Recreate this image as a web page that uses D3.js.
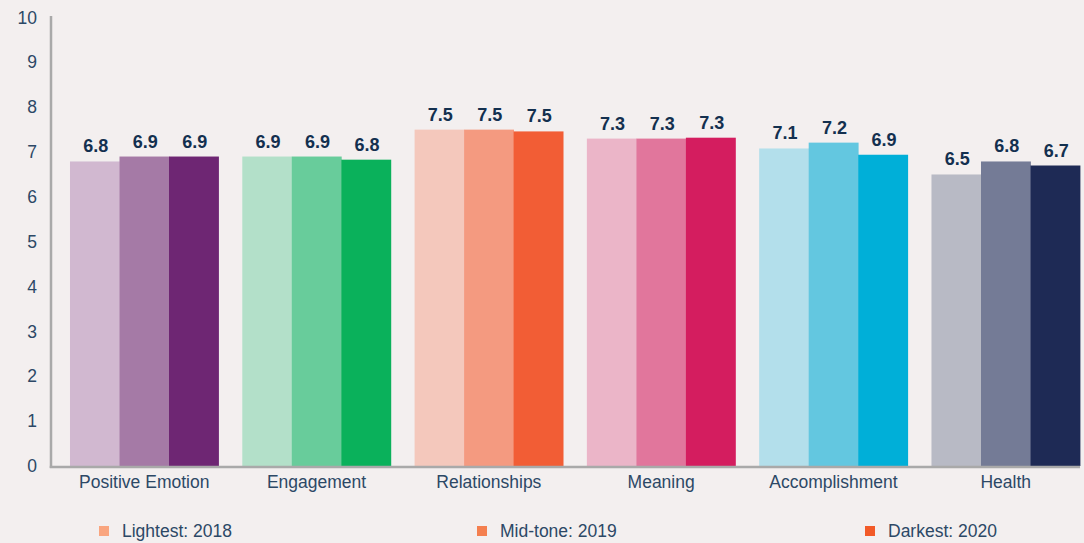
<!DOCTYPE html>
<html>
<head>
<meta charset="utf-8">
<script src="https://cdn.jsdelivr.net/npm/d3@7"></script>
<style>
  html, body { margin: 0; padding: 0; background: #f3efef; }
  svg { display: block; }
  text { font-family: "Liberation Sans", Arial, Helvetica, sans-serif; }
</style>
</head>
<body>
<svg id="chart" width="1084" height="543"></svg>
<script>
// ---- Data ----
const categories = ["Positive Emotion", "Engagement", "Relationships", "Meaning", "Accomplishment", "Health"];
const years = ["2018", "2019", "2020"];
const values2018 = [6.79, 6.9, 7.5, 7.3, 7.08, 6.5];
const values2019 = [6.9, 6.9, 7.5, 7.3, 7.21, 6.79];
const values2020 = [6.9, 6.83, 7.46, 7.32, 6.94, 6.7];
const labels2018 = ["6.8", "6.9", "7.5", "7.3", "7.1", "6.5"];
const labels2019 = ["6.9", "6.9", "7.5", "7.3", "7.2", "6.8"];
const labels2020 = ["6.9", "6.8", "7.5", "7.3", "6.9", "6.7"];
const yTicks = [0, 1, 2, 3, 4, 5, 6, 7, 8, 9, 10];
const legendLabels = ["Lightest: 2018", "Mid-tone: 2019", "Darkest: 2020"];

// colours: [light, mid, dark] per category
const palette = [
  ["#d1b8d0", "#a57aa6", "#6e2673"],
  ["#b3e0c9", "#68cc9b", "#0ab15b"],
  ["#f4c8bc", "#f49a80", "#f25d35"],
  ["#ebb5c8", "#e1769c", "#d41d5f"],
  ["#b3dfeb", "#63c7e0", "#00afd8"],
  ["#b8bac5", "#747b96", "#1e2a55"]
];
const legendColors = ["#f9a57f", "#f47f4f", "#f25a28"];

const seriesValues = [values2018, values2019, values2020];
const seriesLabels = [labels2018, labels2019, labels2020];

const rows = [];
categories.forEach((c, i) => {
  years.forEach((y, j) => {
    rows.push({ cat: c, ci: i, year: y, yi: j, value: seriesValues[j][i], label: seriesLabels[j][i] });
  });
});

// ---- Layout ----
const svg = d3.select("#chart");
const axisX = 51, axisRight = 1080, baseY = 466, topY = 17.5;

const x0 = d3.scaleBand()
  .domain(categories)
  .range([axisX, axisRight])
  .paddingInner(0.138)
  .paddingOuter(0.0551)
  .align(1);

const x1 = d3.scaleBand()
  .domain(years)
  .range([0, x0.bandwidth()])
  .padding(0);

const y = d3.scaleLinear().domain([0, 10]).range([baseY, topY]);

// bars
const g = svg.append("g");
g.selectAll("rect.bar")
  .data(rows)
  .join("rect")
  .attr("class", "bar")
  .attr("x", d => x0(d.cat) + x1(d.year))
  .attr("y", d => y(d.value))
  .attr("width", x1.bandwidth() + 0.4)
  .attr("height", d => y(0) - y(d.value))
  .attr("fill", d => palette[d.ci][d.yi]);

// value labels
g.selectAll("text.val")
  .data(rows)
  .join("text")
  .attr("class", "val")
  .attr("x", d => x0(d.cat) + x1(d.year) + x1.bandwidth() / 2 + 1)
  .attr("y", d => y(d.value) - 9)
  .attr("text-anchor", "middle")
  .attr("font-size", "18px")
  .attr("font-weight", "bold")
  .attr("fill", "#13304f")
  .text(d => d.label);

// y axis
const yAxis = d3.axisLeft(y).tickValues(yTicks).tickSize(0).tickPadding(14).tickFormat(d3.format("d"));
const yg = svg.append("g").attr("transform", `translate(${axisX},0)`).call(yAxis);
yg.select(".domain").remove();
yg.selectAll("text")
  .attr("font-size", "17.5px")
  .attr("fill", "#2c4866")
  .attr("font-family", "Liberation Sans, Arial, sans-serif");

// x axis
const xAxis = d3.axisBottom(x0).tickSize(0).tickPadding(10);
const xg = svg.append("g").attr("transform", `translate(0,${baseY})`).call(xAxis);
xg.select(".domain").remove();
xg.selectAll("text")
  .attr("font-size", "17.5px")
  .attr("fill", "#2c4866")
  .attr("font-family", "Liberation Sans, Arial, sans-serif");

// axis lines
svg.append("line")
  .attr("x1", axisX).attr("x2", axisX)
  .attr("y1", 16).attr("y2", baseY + 2)
  .attr("stroke", "#a9a9a9").attr("stroke-width", 2.5);
svg.append("line")
  .attr("x1", axisX - 1.25).attr("x2", axisRight)
  .attr("y1", baseY + 1).attr("y2", baseY + 1)
  .attr("stroke", "#a9a9a9").attr("stroke-width", 2.5);

// legend
const legendX = [99, 477, 865];
const lg = svg.append("g");
legendLabels.forEach((t, i) => {
  lg.append("rect")
    .attr("x", legendX[i]).attr("y", 526)
    .attr("width", 10).attr("height", 10)
    .attr("fill", legendColors[i]);
  lg.append("text")
    .attr("x", legendX[i] + 23).attr("y", 537)
    .attr("font-size", "17.5px")
    .attr("fill", "#2c4866")
    .text(t);
});
</script>
</body>
</html>
